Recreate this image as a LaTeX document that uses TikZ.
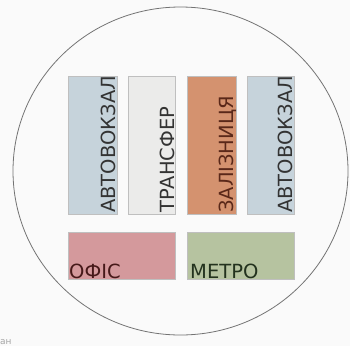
\documentclass[tikz,border=0pt]{standalone}
\usepackage{fontspec}
\setmainfont{DejaVu Sans}
\definecolor{busblue}{HTML}{C6D3DB}
\definecolor{transgray}{HTML}{EBEBEA}
\definecolor{railorange}{HTML}{D4926F}
\definecolor{officepink}{HTML}{D4999C}
\definecolor{metrogreen}{HTML}{B6C3A0}
\tikzset{
  zone/.style={draw=black!25, line width=0.5pt},
  vlabel/.style={rotate=90, anchor=base west, inner sep=0pt, font=\fontsize{19.5}{19.5}\selectfont},
  hlabel/.style={anchor=base west, inner sep=0pt, font=\fontsize{19.5}{19.5}\selectfont}
}
\begin{document}
\begin{tikzpicture}[x=1pt,y=-1pt]

\fill[black!2] (0,0) rectangle (350,346);
\useasboundingbox (0,0) rectangle (350,346);
\clip (0,0) rectangle (350,346);

\coordinate (hub) at (180.5,171);
\draw[black!55, line width=0.8pt] (hub) ellipse (167.5 and 164);

% upper row
\draw[zone, fill=busblue] (68,76) rectangle (117,214);
\coordinate (bus1) at (115,213);
\draw[zone, fill=transgray] (128,76) rectangle (175,214);
\coordinate (transfer) at (174,213);
\draw[zone, fill=railorange] (187,76) rectangle (236,214);
\coordinate (rail) at (233,213);
\draw[zone, fill=busblue] (247,76) rectangle (294,214);
\coordinate (bus2) at (292,213);

\node[vlabel, text=black!80] (bus1text) at (bus1) {АВТОВОКЗАЛ};
\node[vlabel, text=black!80] (transfertext) at (transfer) {ТРАНСФЕР};
\node[vlabel, text={rgb,255:red,90;green,40;blue,25}] (railtext) at (rail) {ЗАЛІЗНИЦЯ};
\node[vlabel, text=black!80] (bus2text) at (bus2) {АВТОВОКЗАЛ};

% lower row
\draw[zone, fill=officepink] (68,232) rectangle (175,279);
\coordinate (office) at (69,278);
\draw[zone, fill=metrogreen] (187,232) rectangle (294,279);
\coordinate (metro) at (190,278);

\node[hlabel, text={rgb,255:red,70;green,25;blue,25}] (officetext) at (office) {ОФІС};
\node[hlabel, text={rgb,255:red,35;green,50;blue,30}] (metrotext) at (metro) {МЕТРО};

\node[anchor=north west, inner sep=0pt, text=black!35, font=\fontsize{9}{9}\selectfont] (mark) at (0,339) {ан};

\end{tikzpicture}
\end{document}
